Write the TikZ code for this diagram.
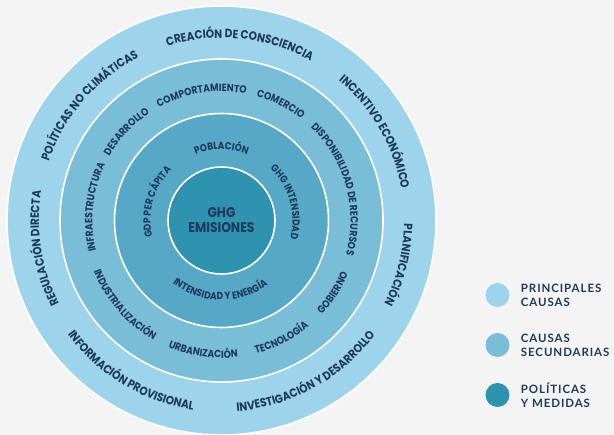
\documentclass[tikz,border=0pt]{standalone}
\usepackage{fontspec}
\usetikzlibrary{positioning,decorations.text}
\setmainfont{Lato}
\newfontfamily\ringfont{Poppins}[FakeStretch=0.88]
\newfontfamily\legendfont{Lato}[LetterSpace=8]

\definecolor{fondo}{HTML}{F4F4F4}
\definecolor{principal}{HTML}{9DD4EC}
\definecolor{secundaria}{HTML}{7ABDD7}
\definecolor{tercera}{HTML}{57A8C6}
\definecolor{politica}{HTML}{2F92AF}
\definecolor{tinta}{HTML}{1D3A5C}

% text on a ring, read clockwise (tops outward) or counter-clockwise (tops inward)
\newcommand\cwtext[4]{\path[decorate,decoration={text along path,text align=center,
  text={|\ringfont\bfseries\fontsize{#3}{#3}\selectfont\color{tinta}|#4}}]
  (#2+70:#1) arc[start angle=#2+70,end angle=#2-70,radius=#1];}
\newcommand\ccwtext[4]{\path[decorate,decoration={text along path,text align=center,
  text={|\ringfont\bfseries\fontsize{#3}{#3}\selectfont\color{tinta}|#4}}]
  (#2-70:#1) arc[start angle=#2-70,end angle=#2+70,radius=#1];}

\begin{document}
\begin{tikzpicture}[
  ring/.style={circle,draw=white,line width=1.6pt,inner sep=0pt,minimum size=#1},
  dot/.style={circle,inner sep=0pt,minimum size=24pt},
  leyenda/.style={right=11pt of #1,inner sep=0pt,align=left,text=tinta,
    font=\legendfont\bfseries\fontsize{11.5}{14}\selectfont}]
\fill[fondo] (-221.5pt,-214.5pt) rectangle (392.5pt,220.5pt);
\useasboundingbox (-221.5pt,-214.5pt) rectangle (392.5pt,220.5pt);

\node[ring=429pt,fill=principal] (causas) at (0,0) {};
\node[ring=323pt,fill=secundaria] (secundarias) at (0,0) {};
\node[ring=214pt,fill=tercera] (factores) at (0,0) {};
\node[ring=107pt,fill=politica,align=center,text=tinta,
  font=\ringfont\bfseries\fontsize{14}{15}\selectfont] (emisiones) at (0,0) {GHG\\EMISIONES};

\cwtext{182.5pt}{84}{12}{CREACIÓN DE CONSCIENCIA}
\cwtext{182.5pt}{30}{12}{INCENTIVO ECONÓMICO}
\cwtext{182.5pt}{-14}{12}{PLANIFICACIÓN}
\ccwtext{191.5pt}{-61}{12}{INVESTIGACIÓN Y DESARROLLO}
\ccwtext{191.5pt}{-121}{12}{INFORMACIÓN PROVISIONAL}
\cwtext{182.5pt}{189}{12}{REGULACIÓN DIRECTA}
\cwtext{182.5pt}{139}{12}{POLÍTICAS NO CLIMÁTICAS}

\cwtext{129pt}{99}{10.5}{COMPORTAMIENTO}
\cwtext{129pt}{63}{10.5}{COMERCIO}
\cwtext{129pt}{15.5}{10.5}{DISPONIBILIDAD DE RECURSOS}
\ccwtext{137.5pt}{-33}{10.5}{GOBIERNO}
\ccwtext{137.5pt}{-63}{10.5}{TECNOLOGÍA}
\ccwtext{137.5pt}{-98}{10.5}{URBANIZACIÓN}
\ccwtext{137.5pt}{-139}{10.5}{INDUSTRIALIZACIÓN}
\cwtext{129pt}{174}{10.5}{INFRAESTRUCTURA}
\cwtext{129pt}{137}{10.5}{DESARROLLO}

\cwtext{71pt}{90}{10.2}{POBLACIÓN}
\cwtext{71pt}{16}{10.2}{GHG INTENSIDAD}
\ccwtext{79.5pt}{-91}{10.2}{INTENSIDAD Y ENERGÍA}
\cwtext{71pt}{164}{10.2}{GDP PER CÁPITA}

\node[dot,fill=principal] (p1) at (276pt,-74.5pt) {};
\node[dot,fill=secundaria] (p2) at (276pt,-124.5pt) {};
\node[dot,fill=politica] (p3) at (276pt,-174.5pt) {};
\node[leyenda=p1] (l1) {PRINCIPALES\\CAUSAS};
\node[leyenda=p2] (l2) {CAUSAS\\SECUNDARIAS};
\node[leyenda=p3] (l3) {POLÍTICAS\\Y MEDIDAS};
\end{tikzpicture}
\end{document}
